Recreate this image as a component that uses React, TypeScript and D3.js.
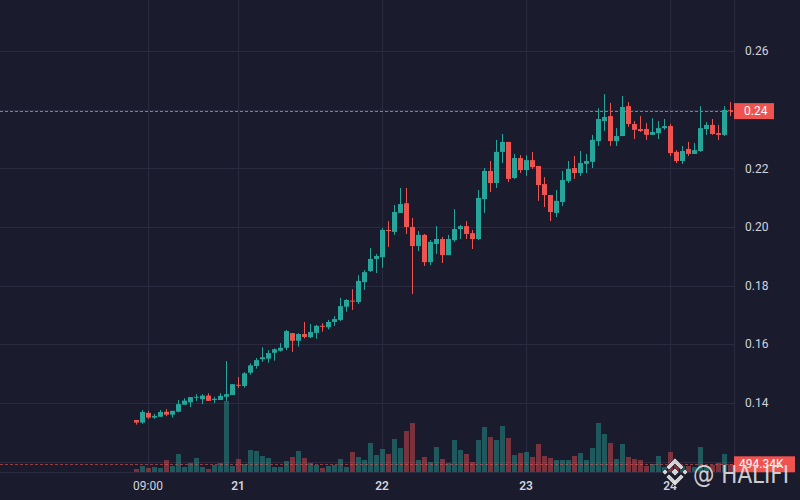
import * as d3 from 'd3';
import React from 'react';

// hourly candles, 20th 07:00 -> 24th 10:00
const startTime = new Date(2024, 4, 20, 7);

const opens = [
  0.1342, 0.1333, 0.1366, 0.135, 0.1353, 0.137, 0.136, 0.137, 0.1394, 0.1402,
  0.1419, 0.1413, 0.1425, 0.141, 0.141, 0.1421, 0.1427, 0.1462, 0.1458, 0.1503,
  0.1526, 0.1549, 0.1551, 0.1571, 0.1578, 0.1588, 0.1638, 0.1612, 0.1635, 0.1624,
  0.1639, 0.1663, 0.1658, 0.1676, 0.1683, 0.1728, 0.1749, 0.1744, 0.1812, 0.185,
  0.1891, 0.1897, 0.199, 0.1983, 0.2048, 0.2081, 0.2, 0.1935, 0.1973, 0.188,
  0.1942, 0.1959, 0.1904, 0.1955, 0.1993, 0.2003, 0.1979, 0.1959, 0.2095, 0.2191,
  0.215, 0.2256, 0.229, 0.2167, 0.2235, 0.2194, 0.2228, 0.2208, 0.2146, 0.2109,
  0.2048, 0.2085, 0.2157, 0.2201, 0.2184, 0.2215, 0.2222, 0.2293, 0.2361, 0.2378,
  0.2293, 0.231, 0.2412, 0.2351, 0.2334, 0.2334, 0.2314, 0.232, 0.2337, 0.2344,
  0.2256, 0.2225, 0.2266, 0.2249, 0.2259, 0.2334, 0.2348, 0.232, 0.2314, 0.2398,
];
const highs = [
  0.1342, 0.1376, 0.1372, 0.1363, 0.1376, 0.1379, 0.1373, 0.141, 0.1416, 0.142,
  0.143, 0.143, 0.1433, 0.1421, 0.1433, 0.1543, 0.1464, 0.1488, 0.1505, 0.1535,
  0.1553, 0.159, 0.158, 0.1586, 0.1604, 0.1649, 0.1638, 0.1638, 0.1676, 0.1669,
  0.1666, 0.1672, 0.1683, 0.1696, 0.1758, 0.1754, 0.1788, 0.1836, 0.1853, 0.1928,
  0.1908, 0.1996, 0.202, 0.2075, 0.2133, 0.2133, 0.2031, 0.1986, 0.1976, 0.1955,
  0.2003, 0.1966, 0.1973, 0.2061, 0.2007, 0.202, 0.199, 0.2126, 0.2201, 0.2225,
  0.2297, 0.2317, 0.229, 0.2249, 0.2245, 0.2245, 0.2256, 0.2208, 0.217, 0.2109,
  0.2126, 0.2191, 0.2225, 0.2242, 0.2259, 0.2249, 0.2314, 0.2405, 0.2453, 0.2423,
  0.2337, 0.2447, 0.2426, 0.2361, 0.2378, 0.2354, 0.2371, 0.2361, 0.2368, 0.2351,
  0.2262, 0.2276, 0.229, 0.2286, 0.2412, 0.2358, 0.2368, 0.2348, 0.2412, 0.2426,
];
const lows = [
  0.1326, 0.1329, 0.1346, 0.1346, 0.1352, 0.1355, 0.135, 0.1368, 0.1394, 0.1386,
  0.1407, 0.1396, 0.1407, 0.14, 0.141, 0.1407, 0.1427, 0.1451, 0.1452, 0.1496,
  0.1517, 0.154, 0.1537, 0.1544, 0.1575, 0.158, 0.1574, 0.1592, 0.162, 0.1621,
  0.1619, 0.1643, 0.1651, 0.1663, 0.1679, 0.1711, 0.1717, 0.1737, 0.1785, 0.1846,
  0.1843, 0.1861, 0.1932, 0.1973, 0.2048, 0.1976, 0.1771, 0.1918, 0.1867, 0.187,
  0.1908, 0.1877, 0.1904, 0.1949, 0.1959, 0.1959, 0.1925, 0.1955, 0.2048, 0.2119,
  0.2133, 0.2218, 0.2153, 0.2164, 0.2184, 0.2174, 0.2198, 0.2089, 0.2068, 0.202,
  0.2034, 0.2071, 0.215, 0.2164, 0.2174, 0.2184, 0.2201, 0.2276, 0.2327, 0.2276,
  0.2276, 0.231, 0.2341, 0.23, 0.2324, 0.2297, 0.2314, 0.23, 0.2331, 0.2242,
  0.2218, 0.2215, 0.2242, 0.2249, 0.2256, 0.2314, 0.2314, 0.2297, 0.231, 0.2378,
];
const closes = [
  0.1333, 0.1369, 0.135, 0.1356, 0.1369, 0.136, 0.1373, 0.1396, 0.1408, 0.142,
  0.1421, 0.1425, 0.1407, 0.1414, 0.1424, 0.143, 0.1464, 0.146, 0.1501, 0.1528,
  0.1546, 0.1556, 0.157, 0.1583, 0.1588, 0.1645, 0.1612, 0.1635, 0.1625, 0.1642,
  0.1663, 0.1661, 0.1676, 0.1686, 0.173, 0.1751, 0.1747, 0.1816, 0.1846, 0.1891,
  0.1901, 0.199, 0.1986, 0.2051, 0.2078, 0.2, 0.1935, 0.1973, 0.188, 0.1949,
  0.1959, 0.1904, 0.1959, 0.1993, 0.2003, 0.1976, 0.1959, 0.2099, 0.2191, 0.215,
  0.2256, 0.229, 0.2164, 0.2235, 0.2194, 0.2228, 0.2204, 0.2143, 0.2109, 0.2051,
  0.2089, 0.216, 0.2198, 0.2184, 0.2218, 0.2225, 0.2297, 0.2368, 0.2375, 0.2293,
  0.231, 0.2409, 0.2351, 0.2331, 0.2327, 0.2314, 0.2324, 0.2337, 0.2344, 0.2252,
  0.2225, 0.2259, 0.2249, 0.2262, 0.2337, 0.2348, 0.2317, 0.2314, 0.2399, 0.2395,
];
// volume in thousands
const volumes = [
  193, 385, 257, 321, 257, 770, 385, 1156, 321, 578,
  899, 321, 193, 449, 578, 4558, 385, 835, 514, 1412,
  1348, 1027, 899, 321, 321, 706, 963, 1348, 899, 578,
  449, 257, 385, 449, 835, 321, 1284, 963, 770, 1862,
  1091, 1477, 1156, 2119, 1541, 2632, 3146, 770, 963, 642,
  1605, 835, 578, 2054, 1412, 1156, 642, 2054, 2889, 2247,
  2054, 2953, 2183, 1091, 1220, 1284, 963, 1798, 1027, 899,
  770, 770, 770, 1027, 1220, 770, 1541, 3146, 2440, 1862,
  835, 1798, 963, 835, 770, 385, 514, 1027, 321, 1284,
  449, 385, 385, 321, 1605, 385, 449, 578, 1156, 494.34,
];

const priceTicks = [0.14, 0.16, 0.18, 0.2, 0.22, 0.24, 0.26];
const gridPrices = [0.12, 0.14, 0.16, 0.18, 0.2, 0.22, 0.24, 0.26];
const timeTicks = [
  new Date(2024, 4, 20, 9),
  new Date(2024, 4, 21),
  new Date(2024, 4, 22),
  new Date(2024, 4, 23),
  new Date(2024, 4, 24),
];

const UP = '#26a69a';
const DOWN = '#ef5350';
const BG = '#1b1b2e';
const GRID = '#2a2a40';
const TEXT = '#d1d4dc';
const FONT = 'Roboto, "Noto Sans", sans-serif';

export default function App() {
  const ref = React.useRef<SVGSVGElement>(null);

  React.useEffect(() => {
    if (!ref.current) return;
    const svg = d3.select(ref.current);
    svg.selectAll('*').remove();

    const width = 800;
    const height = 500;
    const plotRight = 734;
    const plotBottom = 472;

    const times = opens.map((_, i) => d3.timeHour.offset(startTime, i));
    const x = d3.scaleTime().domain([times[0], times[times.length - 1]]).range([136, 730]);
    const y = d3.scaleLinear().domain([0.12, 0.26]).range([461.6, 51]);
    const yVol = d3.scaleLinear().domain([0, d3.max(volumes) as number]).range([plotBottom, 401]);

    svg.append('rect').attr('width', width).attr('height', height).attr('fill', BG);

    // grid
    const grid = svg.append('g').attr('stroke', GRID).attr('stroke-width', 1);
    gridPrices.forEach((p) => {
      const yy = Math.round(y(p)) + 0.5;
      grid.append('line').attr('x1', 0).attr('x2', plotRight).attr('y1', yy).attr('y2', yy);
    });
    timeTicks.forEach((t) => {
      const xx = Math.round(x(t)) + 0.5;
      grid.append('line').attr('x1', xx).attr('x2', xx).attr('y1', 0).attr('y2', plotBottom);
    });
    grid.append('line').attr('x1', plotRight + 0.5).attr('x2', plotRight + 0.5).attr('y1', 0).attr('y2', plotBottom);
    grid.append('line').attr('x1', 0).attr('x2', plotRight).attr('y1', plotBottom + 0.5).attr('y2', plotBottom + 0.5);

    // volume bars
    svg
      .append('g')
      .selectAll('rect')
      .data(volumes)
      .enter()
      .append('rect')
      .attr('x', (_, i) => Math.round(x(times[i])) - 2)
      .attr('width', 5)
      .attr('y', (d) => yVol(d))
      .attr('height', (d) => plotBottom - yVol(d))
      .attr('fill', (_, i) => (closes[i] >= opens[i] ? UP : DOWN))
      .attr('fill-opacity', 0.45);

    // last price / volume lines
    const lastClose = closes[closes.length - 1];
    const lastVol = volumes[volumes.length - 1];
    svg.append('line')
      .attr('x1', 0).attr('x2', plotRight)
      .attr('y1', Math.round(y(lastClose)) + 0.5).attr('y2', Math.round(y(lastClose)) + 0.5)
      .attr('stroke', DOWN).attr('stroke-dasharray', '3 2').attr('stroke-width', 1);
    svg.append('line')
      .attr('x1', 0).attr('x2', plotRight)
      .attr('y1', Math.round(yVol(lastVol)) + 0.5).attr('y2', Math.round(yVol(lastVol)) + 0.5)
      .attr('stroke', DOWN).attr('stroke-opacity', 0.6).attr('stroke-dasharray', '3 2').attr('stroke-width', 1);

    // candles
    const candles = svg.append('g');
    opens.forEach((o, i) => {
      const c = closes[i];
      const color = c >= o ? UP : DOWN;
      const cx = Math.round(x(times[i]));
      candles.append('line')
        .attr('x1', cx + 0.5).attr('x2', cx + 0.5)
        .attr('y1', y(highs[i])).attr('y2', y(lows[i]))
        .attr('stroke', color).attr('stroke-width', 1);
      const top = y(Math.max(o, c));
      const h = Math.max(1, Math.abs(y(o) - y(c)));
      candles.append('rect')
        .attr('x', cx - 2).attr('width', 5)
        .attr('y', top).attr('height', h)
        .attr('fill', color);
    });

    // price axis
    const axisR = svg.append('g').attr('font-family', FONT).attr('font-size', 12).attr('fill', TEXT);
    priceTicks.forEach((p) => {
      axisR.append('text').attr('x', 745).attr('y', y(p)).attr('dy', '0.35em').text(d3.format('.2f')(p));
    });

    // time axis
    const axisB = svg.append('g').attr('font-family', FONT).attr('font-size', 12).attr('fill', TEXT).attr('text-anchor', 'middle');
    timeTicks.forEach((t) => {
      const isDay = t.getHours() === 0;
      axisB.append('text')
        .attr('x', x(t)).attr('y', 486).attr('dy', '0.35em')
        .attr('font-weight', isDay ? 600 : 400)
        .text(isDay ? d3.timeFormat('%-d')(t) : d3.timeFormat('%H:%M')(t));
    });

    // last value labels
    const priceY = y(lastClose);
    svg.append('rect').attr('x', plotRight).attr('y', priceY - 8).attr('width', 40).attr('height', 16).attr('fill', DOWN);
    svg.append('text').attr('x', 744).attr('y', priceY).attr('dy', '0.35em')
      .attr('font-family', FONT).attr('font-size', 12).attr('fill', '#ffffff')
      .text(d3.format('.2f')(lastClose));
    const volY = yVol(lastVol);
    svg.append('rect').attr('x', plotRight).attr('y', volY - 8).attr('width', 61).attr('height', 16).attr('fill', DOWN);
    svg.append('text').attr('x', 739).attr('y', volY).attr('dy', '0.35em')
      .attr('font-family', FONT).attr('font-size', 12).attr('fill', '#ffffff')
      .text(d3.format('.2f')(lastVol) + 'K');

    // watermark
    const wm = svg.append('g').attr('fill', '#e6e6e6').attr('fill-opacity', 0.9)
      .attr('stroke', '#2a2a3a').attr('stroke-width', 0.8);
    const lx = 675;
    const ly = 472;
    const diamond = (cx: number, cy: number, r: number) => `M${cx},${cy - r}L${cx + r},${cy}L${cx},${cy + r}L${cx - r},${cy}Z`;
    wm.append('path').attr('d', diamond(lx, ly, 4));
    wm.append('path').attr('d', diamond(lx - 10, ly, 3));
    wm.append('path').attr('d', diamond(lx + 10, ly, 3));
    wm.append('path')
      .attr('d', `M${lx},${ly - 14}L${lx + 9},${ly - 5}L${lx + 6},${ly - 2}L${lx},${ly - 8}L${lx - 6},${ly - 2}L${lx - 9},${ly - 5}Z`);
    wm.append('path')
      .attr('d', `M${lx},${ly + 14}L${lx + 9},${ly + 5}L${lx + 6},${ly + 2}L${lx},${ly + 8}L${lx - 6},${ly + 2}L${lx - 9},${ly + 5}Z`);
    wm.append('text').attr('x', 693).attr('y', 483)
      .attr('font-family', '"DejaVu Sans", sans-serif').attr('font-size', 24)
      .attr('textLength', 96).attr('lengthAdjust', 'spacingAndGlyphs')
      .attr('stroke', 'none')
      .text('@ HALIFI');
  }, []);

  return (
    <div style={{ position: 'fixed', left: 0, top: 0, width: 800, height: 500 }}>
      <svg ref={ref} width={800} height={500} style={{ display: 'block' }} />
    </div>
  );
}
